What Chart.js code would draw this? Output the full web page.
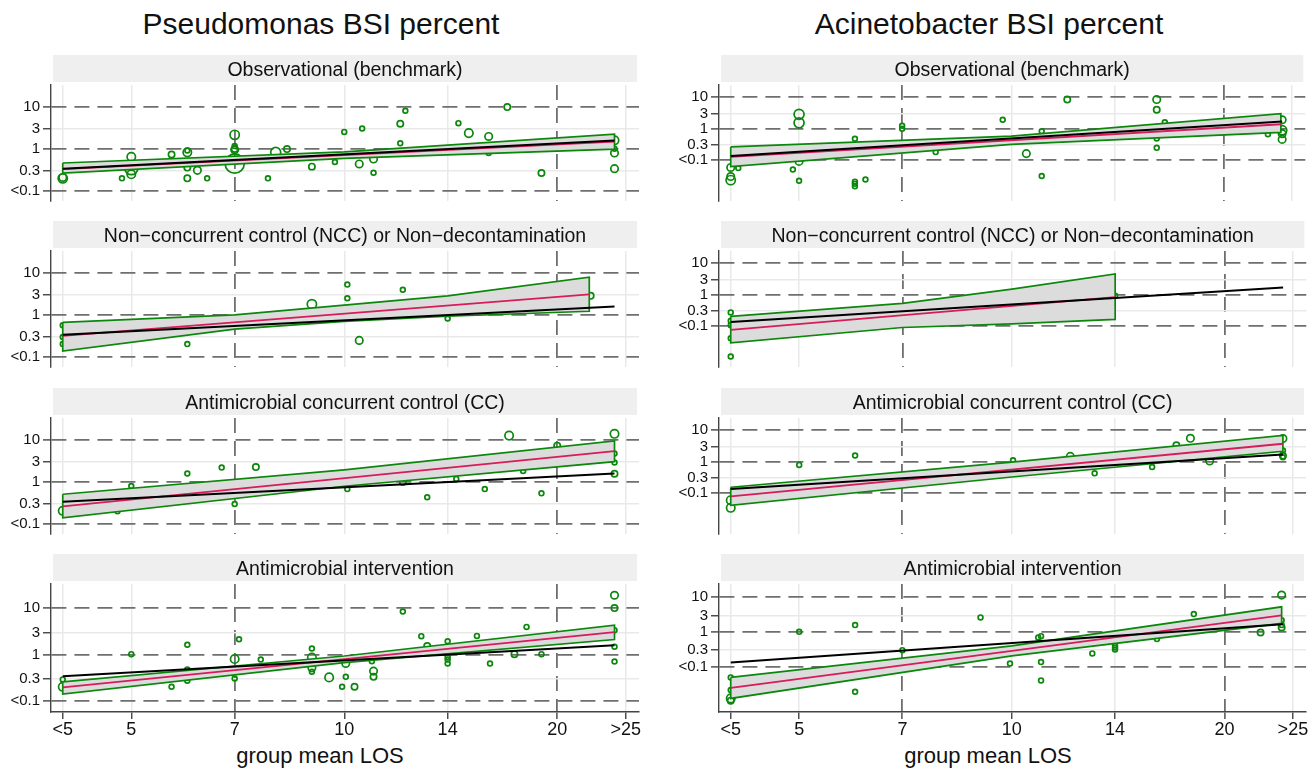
<!DOCTYPE html>
<html>
<head>
<meta charset="utf-8">
<script src="https://cdn.jsdelivr.net/npm/chart.js@4.4.1/dist/chart.umd.min.js"></script>
<style>
  body{margin:0;background:#fff;font-family:"Liberation Sans",Arial,Helvetica,sans-serif;color:#111;}
  #fig{position:relative;width:1312px;height:769px;overflow:hidden;}
  .cap{position:absolute;text-align:center;white-space:nowrap;}
  .main{font-size:30px;line-height:36px;top:6px;width:600px;}
  .xt{font-size:22px;line-height:26px;top:743px;width:400px;}
  canvas{position:absolute;}
</style>
</head>
<body>
<div id="fig">
  <div class="cap main" style="left:21px">Pseudomonas BSI percent</div>
  <div class="cap main" style="left:689px">Acinetobacter BSI percent</div>
  <div class="cap xt" style="left:120px">group mean LOS</div>
  <div class="cap xt" style="left:788px">group mean LOS</div>
</div>
<script>
// ─── DATA ────────────────────────────────────────────────────────────────────

const TITLES   = ["Observational (benchmark)", "Non\u2212concurrent control (NCC) or Non\u2212decontamination",
                  "Antimicrobial concurrent control (CC)", "Antimicrobial intervention"];
const X_TICKS  = [4, 5, 7, 10, 14, 20, 25];
const X_LABELS = ["<5", "5", "7", "10", "14", "20", ">25"];
const Y_TICKS  = [0.1, 0.3, 1, 3, 10];
const Y_LABELS = ["<0.1", "0.3", "1", "3", "10"];
const DASH_X   = [7, 20];
const DASH_Y   = [0.1, 1, 10];

// Pseudomonas — observational
const psObsX = [4,4,5,5,5,4.85,5.7,6,6,6,6,6.2,6.4,7,7,7,7,7,7.8,8,8.3,9,9.7,10,10.5,10.6,11,11,12,12,12.2,14.5,15,16,16,17,19,24.1,24.1,24.1,24.1];
const psObsY = [0.2,0.21,0.65,0.35,0.25,0.2,0.74,0.83,0.92,0.36,0.2,0.31,0.2,2.16,1.17,0.95,1.0,0.45,0.2,0.83,0.99,0.38,0.49,2.54,0.44,3.05,0.575,0.273,1.36,3.97,8.07,4.1,2.38,1.98,0.8,9.85,0.269,1.6,1.01,0.8,0.34];
const psObsN = [5,3,4,11,4,1,2,4,1,2,2,3,1,5,1,3,2,25,1,6,2,2,1,1,3,1,3,1,1,2,1,1,4,3,1,2,2,4,1,3,3];
const psObsFitX = [4, 24.1], psObsFitY = [0.333, 1.5];
const psObsCiX = [4, 10, 24.1], psObsLo = [0.265, 0.594, 0.99], psObsHi = [0.464, 0.853, 2.23];

// Pseudomonas — NCC
const psNccX = [4,4,4,6,9,10.1,10.1,10.5,12.1,14,22.3];
const psNccY = [0.566,0.3,0.203,0.203,1.8,5.25,2.5,0.248,3.96,0.82,2.84];
const psNccN = [1,1,1,1,5,1,1,3,1,1,2];
const psNccFitX = [4, 22.2], psNccFitY = [0.317, 3.09];
const psNccCiX = [4, 7, 10, 14, 22.2], psNccLo = [0.139, 0.46, 0.70, 0.93, 1.22], psNccHi = [0.667, 1.0, 1.71, 2.85, 7.92];

// Pseudomonas — CC
const psCcX = [4,4.78,5,6,6.71,7,7.5,10.1,12.1,13.1,14.4,15.8,17.1,17.9,19,20,24.1,24.1,24.1,24.1];
const psCcY = [0.206,0.2,0.8,1.59,2.19,0.3,2.25,0.676,1.0,0.433,1.18,0.676,12.6,1.82,0.536,7.28,13.9,4.73,2.89,1.57];
const psCcN = [4,1,1,1,1,1,2,1,2,1,1,1,4,1,1,2,4,1,1,2];
const psCcFitX = [4, 24.1], psCcFitY = [0.264, 5.41];
const psCcCiX = [4, 10, 24.1], psCcLo = [0.141, 0.79, 3.03], psCcHi = [0.51, 1.93, 9.47];

// Pseudomonas — intervention
const psIntX = [4,4,5,5.7,6,6,6,7,7,7.1,7.62,9,9,9,9,9.52,9.93,10.05,10.05,10.34,10.94,11,11,12.1,12.85,13.1,14,14,14,14,15.4,16.07,17.4,18.1,19,24.1,24.1,24.1,24.1,24.1];
const psIntY = [0.292,0.202,1.02,0.202,1.62,0.478,0.272,0.8,0.306,2.14,0.785,1.35,0.866,0.518,0.425,0.322,0.202,0.331,0.644,0.202,0.721,0.44,0.331,8.45,2.49,1.52,1.94,0.89,0.785,0.644,2.52,0.644,1.02,3.94,1.02,18.9,10,3.35,1.47,0.71];
const psIntN = [1,4,1,1,1,1,1,4,1,1,1,1,4,3,1,4,1,1,3,2,1,3,2,1,1,2,1,1,1,1,1,1,2,1,1,3,2,1,1,1];
const psIntFitX = [4, 24.1], psIntFitY = [0.196, 3.03];
const psIntCiX = [4, 10, 24.1], psIntLo = [0.141, 0.67, 2.11], psIntHi = [0.259, 0.93, 4.29];

const psBenchX = [4, 24.1], psBenchY = [0.34, 1.58];

// Acinetobacter — observational
const acObsX = [4,4,4,4.1,5,5,5,4.9,5,6,6,6,6,6.21,7,7,7.81,9.72,10.5,11.04,11.04,12,16.07,16.07,16.07,16.07,16.5,23.1,24.2,24.2,24.2,24.2];
const acObsY = [0.0577,0.0297,0.0228,0.055,2.83,1.52,0.09,0.0495,0.0217,0.472,0.0204,0.0175,0.0147,0.0239,1.22,0.98,0.178,1.9,0.159,0.82,0.031,8.36,8.36,3.95,0.482,0.243,1.58,0.66,1.9,0.875,0.686,0.451];
const acObsN = [3,3,5,1,6,6,3,1,1,1,1,1,1,1,1,1,1,1,3,1,1,2,3,2,1,1,1,1,3,5,3,3];
const acObsFitX = [4, 24.1], acObsFitY = [0.126, 1.365];
const acObsCiX = [4, 10, 24.1], acObsLo = [0.0617, 0.315, 0.752], acObsHi = [0.26, 0.574, 2.95];

// Acinetobacter — NCC
const acNccX = [4,4,4,4,4,14];
const acNccY = [0.27,0.146,0.105,0.0403,0.0107,0.91];
const acNccN = [1,1,1,1,1,1];
const acNccFitX = [4, 14], acNccFitY = [0.075, 0.82];
const acNccCiX = [4, 7, 10, 14], acNccLo = [0.0289, 0.0894, 0.117, 0.162], acNccHi = [0.203, 0.525, 1.49, 4.48];

// Acinetobacter — CC
const acCcX = [4,4,5,6,10.04,12.1,13.1,15.8,17.1,17.9,19.06,24.2,24.2,24.2,24.2];
const acCcY = [0.0588,0.0337,0.78,1.55,1.09,1.45,0.42,0.667,3.28,5.47,1.04,5.36,2.26,1.52,1.36];
const acCcN = [4,4,1,1,1,3,1,1,2,3,3,3,1,2,1];
const acCcFitX = [4, 24.2], acCcFitY = [0.078, 3.67];
const acCcCiX = [4, 10, 24.2], acCcLo = [0.0403, 0.321, 2.12], acCcHi = [0.152, 0.955, 6.8];

// Acinetobacter — intervention
const acIntX = [4,4,4,4,5,6,6,7,9.03,9.94,10.9,11,11,11,13,14,14,14,16.05,18.1,22.5,24.1,24.1,24.1,24.1];
const acIntY = [0.0492,0.0212,0.0122,0.0105,1.01,1.58,0.0189,0.3,2.64,0.124,0.7,0.76,0.136,0.0403,0.242,0.411,0.36,0.315,0.624,3.28,0.973,11.6,2.2,1.58,1.36];
const acIntN = [1,1,4,2,1,1,1,1,1,1,1,1,1,1,1,1,1,1,1,1,2,3,1,1,2];
const acIntFitX = [4, 24.1], acIntFitY = [0.0247, 3.01];
const acIntCiX = [4, 10, 24.1], acIntLo = [0.0122, 0.204, 1.77], acIntHi = [0.0492, 0.40, 5.32];

const acBenchX = [4, 24.2], acBenchY = [0.133, 1.68];

// ─── LAYOUT / STYLE ──────────────────────────────────────────────────────────

const GREEN = "#0b870b", PINK = "#d81b5a", BAND = "#dcdcdc";
const GRID = "#e9e9e9", DASH = "#6f6f6f", AXIS = "#444";
const ROW_TOP = [55, 221, 388, 554];
const STRIP = 30, PLOT_H = 128, XAXIS_H = 57;

const COLS = [
  {left: 0,   width: 660, yw: 51, padR: 21, ymin: 0.058,   ymax: 33,   bx: psBenchX, by: psBenchY},
  {left: 660, width: 652, yw: 59, padR: 5,  ymin: 0.00495, ymax: 24.2, bx: acBenchX, by: acBenchY}
];

const PANELS = [
  {col:0,row:0, x:psObsX,y:psObsY,n:psObsN, fx:psObsFitX,fy:psObsFitY, cx:psObsCiX,lo:psObsLo,hi:psObsHi},
  {col:0,row:1, x:psNccX,y:psNccY,n:psNccN, fx:psNccFitX,fy:psNccFitY, cx:psNccCiX,lo:psNccLo,hi:psNccHi},
  {col:0,row:2, x:psCcX, y:psCcY, n:psCcN,  fx:psCcFitX, fy:psCcFitY,  cx:psCcCiX, lo:psCcLo, hi:psCcHi},
  {col:0,row:3, x:psIntX,y:psIntY,n:psIntN, fx:psIntFitX,fy:psIntFitY, cx:psIntCiX,lo:psIntLo,hi:psIntHi},
  {col:1,row:0, x:acObsX,y:acObsY,n:acObsN, fx:acObsFitX,fy:acObsFitY, cx:acObsCiX,lo:acObsLo,hi:acObsHi},
  {col:1,row:1, x:acNccX,y:acNccY,n:acNccN, fx:acNccFitX,fy:acNccFitY, cx:acNccCiX,lo:acNccLo,hi:acNccHi},
  {col:1,row:2, x:acCcX, y:acCcY, n:acCcN,  fx:acCcFitX, fy:acCcFitY,  cx:acCcCiX, lo:acCcLo, hi:acCcHi},
  {col:1,row:3, x:acIntX,y:acIntY,n:acIntN, fx:acIntFitX,fy:acIntFitY, cx:acIntCiX,lo:acIntLo,hi:acIntHi}
];

Chart.defaults.font.family = '"Liberation Sans", Arial, Helvetica, sans-serif';
Chart.defaults.color = "#111";

const xy     = (xs, ys) => xs.map((x, i) => ({x, y: ys[i]}));
const band   = (xs, lo, hi) => [...xy(xs, hi), ...xy(xs, lo).reverse(), {x: xs[0], y: hi[0]}];
const radius = n => 0.6 + 1.8 * Math.sqrt(n);
const isDash = (c, list) => !!(c.tick && list.includes(c.tick.value));

function stripPlugin(text){
  return {
    id: "strip",
    beforeDraw(chart){
      const {ctx, chartArea: a} = chart;
      ctx.save();
      ctx.fillStyle = "#efefef";
      ctx.fillRect(a.left + 2, a.top - STRIP, a.right - a.left - 4, 27);
      ctx.fillStyle = "#111";
      ctx.font = '19.5px "Liberation Sans", Arial, sans-serif';
      ctx.textAlign = "center";
      ctx.textBaseline = "alphabetic";
      ctx.fillText(text, (a.left + a.right) / 2, a.top - 9);
      ctx.restore();
    }
  };
}

// ─── PANELS ──────────────────────────────────────────────────────────────────

function renderPanel(p){
  const col  = COLS[p.col];
  const last = p.row === 3;
  const cv   = document.createElement("canvas");
  cv.width  = col.width;
  cv.height = STRIP + PLOT_H + (last ? XAXIS_H : 0);
  cv.style.left = col.left + "px";
  cv.style.top  = ROW_TOP[p.row] + "px";
  document.getElementById("fig").appendChild(cv);

  new Chart(cv, {
    type: "scatter",
    data: {
      datasets: [
        { type: "line", data: xy(col.bx, col.by), borderColor: "#000", borderWidth: 2, pointRadius: 0, order: 0 },
        { type: "line", data: xy(p.fx, p.fy), borderColor: PINK, borderWidth: 1.8, pointRadius: 0, order: 1 },
        { type: "line", data: band(p.cx, p.lo, p.hi), borderColor: GREEN, borderWidth: 1.7,
          backgroundColor: BAND, fill: "shape", pointRadius: 0, order: 2 },
        { type: "scatter", data: xy(p.x, p.y), order: 3,
          pointRadius: c => radius(p.n[c.dataIndex]),
          pointBorderColor: GREEN, pointBackgroundColor: "rgba(0,0,0,0)", pointBorderWidth: 1.7 }
      ]
    },
    options: {
      responsive: false, animation: false,
      layout: { padding: { top: STRIP, right: col.padR, left: 0, bottom: 0 } },
      plugins: { legend: { display: false }, tooltip: { enabled: false } },
      scales: {
        x: {
          type: "logarithmic", position: "bottom", min: 3.85, max: 26.1, bounds: "data",
          afterBuildTicks: s => { s.ticks = X_TICKS.map(v => ({value: v})); },
          afterFit: s => { s.height = last ? XAXIS_H : 0; },
          ticks: { display: last, autoSkip: false, maxRotation: 0, padding: 0,
                   font: { size: 18 }, color: "#111", callback: v => X_LABELS[X_TICKS.indexOf(v)] },
          grid: { color: c => isDash(c, DASH_X) ? DASH : GRID, lineWidth: c => isDash(c, DASH_X) ? 1.8 : 1.5,
                  drawTicks: last, tickLength: 7, tickColor: AXIS, tickWidth: 1.4 },
          border: { display: last, color: AXIS, width: 1.4, dash: c => isDash(c, DASH_X) ? [15, 8] : [] }
        },
        y: {
          type: "logarithmic", min: col.ymin, max: col.ymax, bounds: "data",
          afterBuildTicks: s => { s.ticks = Y_TICKS.map(v => ({value: v})); },
          afterFit: s => { s.width = col.yw; },
          ticks: { autoSkip: false, padding: 3, font: { size: 15 }, color: "#111",
                   callback: v => Y_LABELS[Y_TICKS.indexOf(v)] },
          grid: { color: c => isDash(c, DASH_Y) ? DASH : GRID, lineWidth: c => isDash(c, DASH_Y) ? 1.8 : 1.5,
                  tickLength: 8, tickColor: AXIS, tickWidth: 1.4 },
          border: { color: AXIS, width: 1.4, dash: c => isDash(c, DASH_Y) ? [15, 8] : [] }
        }
      }
    },
    plugins: [stripPlugin(TITLES[p.row])]
  });
}

PANELS.forEach(renderPanel);
</script>
</body>
</html>
